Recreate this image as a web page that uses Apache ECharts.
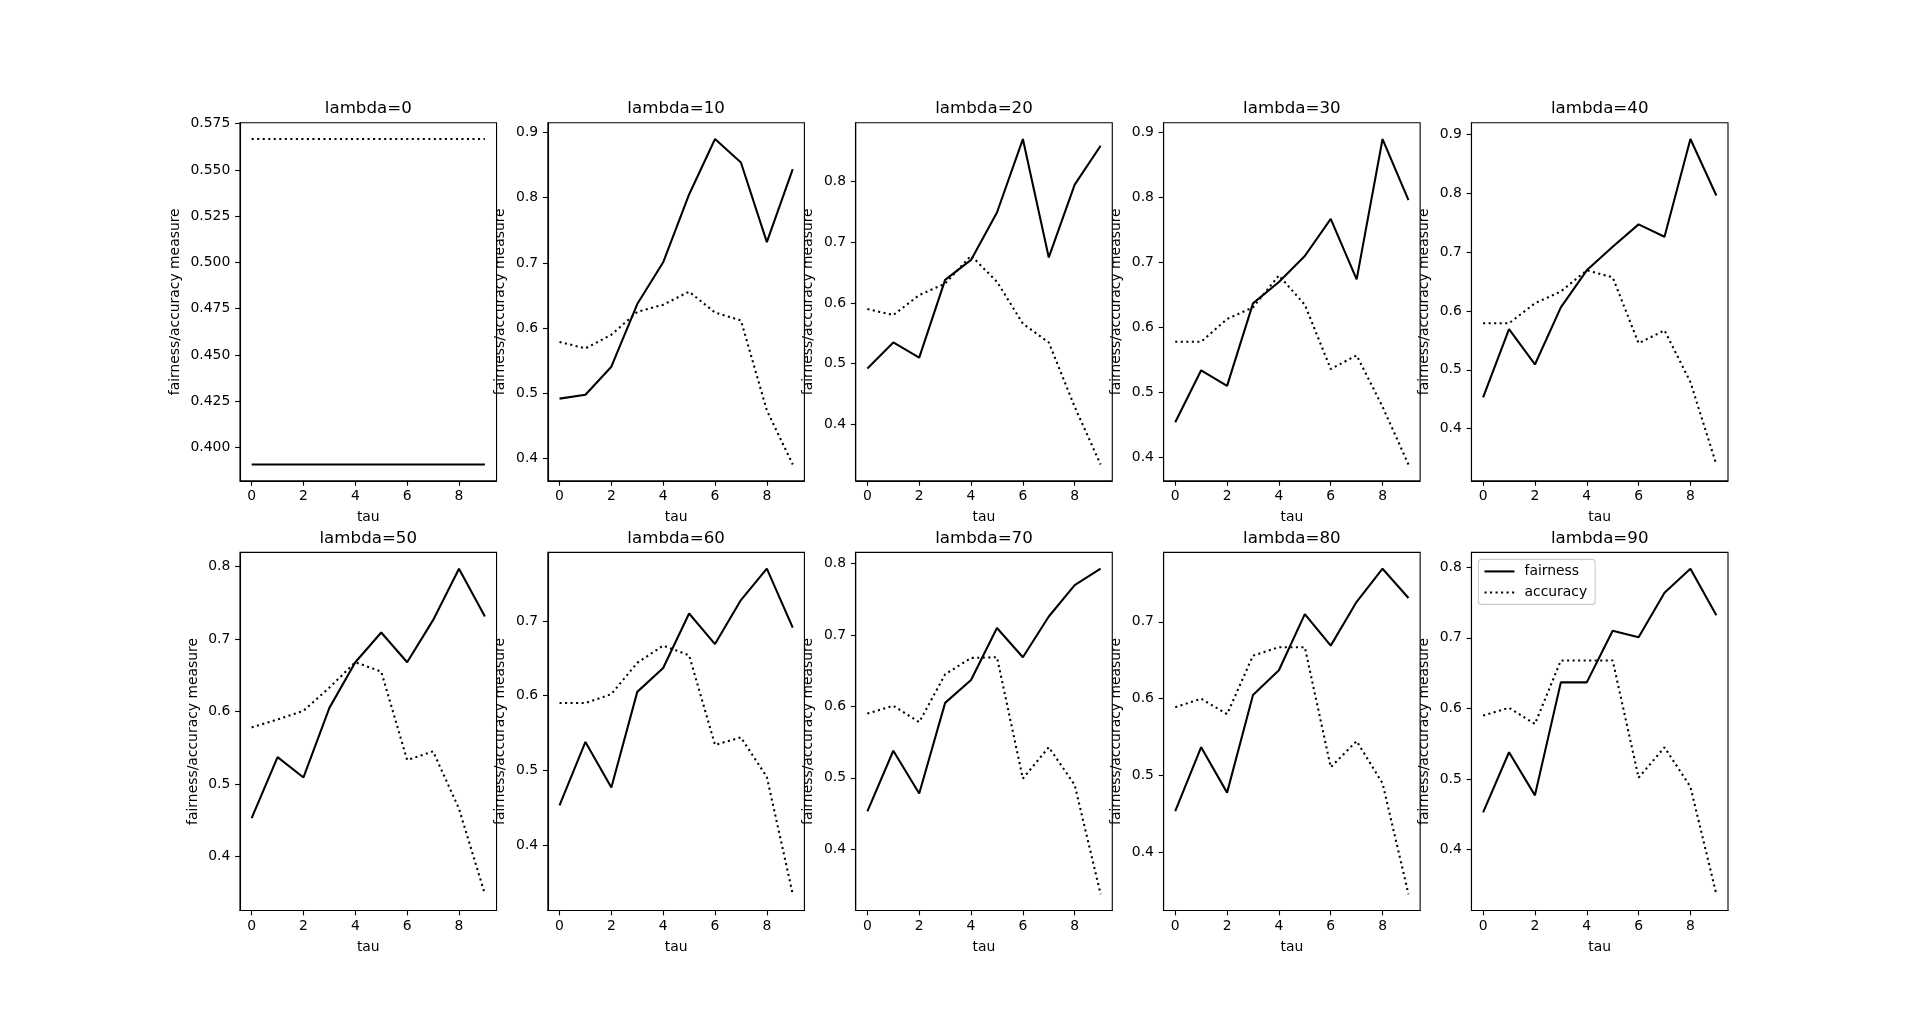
<!DOCTYPE html>
<html><head><meta charset="utf-8">
<script src="https://cdn.jsdelivr.net/npm/echarts@6/dist/echarts.min.js"></script>
<style>html,body{margin:0;padding:0;background:#fff}#c{width:1920px;height:1023px}</style>
</head><body><div id="c"></div><script>
// ---------------- data ----------------
const tau = [0, 1, 2, 3, 4, 5, 6, 7, 8, 9];
const xTicks = [0, 2, 4, 6, 8];
const lambdas = [0, 10, 20, 30, 40, 50, 60, 70, 80, 90];

const fairness_0  = [0.3908, 0.3908, 0.3908, 0.3908, 0.3908, 0.3908, 0.3908, 0.3908, 0.3908, 0.3908];
const accuracy_0  = [0.5667, 0.5667, 0.5667, 0.5667, 0.5667, 0.5667, 0.5667, 0.5667, 0.5667, 0.5667];
const fairness_10 = [0.492, 0.498, 0.541, 0.637, 0.701, 0.805, 0.890, 0.854, 0.732, 0.844];
const accuracy_10 = [0.579, 0.569, 0.590, 0.625, 0.636, 0.656, 0.624, 0.612, 0.474, 0.391];
const fairness_20 = [0.492, 0.535, 0.510, 0.638, 0.671, 0.749, 0.870, 0.675, 0.795, 0.859];
const accuracy_20 = [0.590, 0.580, 0.613, 0.632, 0.678, 0.635, 0.566, 0.535, 0.429, 0.334];
const fairness_30 = [0.454, 0.534, 0.510, 0.637, 0.670, 0.710, 0.767, 0.674, 0.890, 0.796];
const accuracy_30 = [0.578, 0.578, 0.613, 0.631, 0.680, 0.635, 0.536, 0.557, 0.478, 0.389];
const fairness_40 = [0.453, 0.569, 0.509, 0.606, 0.669, 0.709, 0.747, 0.726, 0.892, 0.796];
const accuracy_40 = [0.579, 0.579, 0.613, 0.633, 0.669, 0.657, 0.545, 0.567, 0.479, 0.339];
const fairness_50 = [0.453, 0.537, 0.509, 0.605, 0.668, 0.709, 0.668, 0.726, 0.797, 0.731];
const accuracy_50 = [0.578, 0.589, 0.601, 0.633, 0.668, 0.655, 0.533, 0.545, 0.466, 0.348];
const fairness_60 = [0.453, 0.538, 0.477, 0.605, 0.637, 0.710, 0.669, 0.728, 0.770, 0.691];
const accuracy_60 = [0.590, 0.590, 0.602, 0.644, 0.667, 0.654, 0.534, 0.544, 0.491, 0.334];
const fairness_70 = [0.453, 0.538, 0.478, 0.605, 0.637, 0.710, 0.669, 0.726, 0.770, 0.793];
const accuracy_70 = [0.590, 0.601, 0.578, 0.645, 0.668, 0.669, 0.499, 0.543, 0.490, 0.337];
const fairness_80 = [0.454, 0.537, 0.478, 0.605, 0.637, 0.710, 0.669, 0.726, 0.769, 0.731];
const accuracy_80 = [0.589, 0.600, 0.580, 0.656, 0.667, 0.667, 0.511, 0.545, 0.490, 0.346];
const fairness_90 = [0.453, 0.538, 0.477, 0.637, 0.637, 0.710, 0.701, 0.764, 0.798, 0.732];
const accuracy_90 = [0.590, 0.601, 0.578, 0.668, 0.668, 0.668, 0.502, 0.545, 0.489, 0.337];

const yTicks_0  = [0.400, 0.425, 0.450, 0.475, 0.500, 0.525, 0.550, 0.575];
const yTicks_10 = [0.4, 0.5, 0.6, 0.7, 0.8, 0.9];
const yTicks_20 = [0.4, 0.5, 0.6, 0.7, 0.8];
const yTicks_30 = [0.4, 0.5, 0.6, 0.7, 0.8, 0.9];
const yTicks_40 = [0.4, 0.5, 0.6, 0.7, 0.8, 0.9];
const yTicks_50 = [0.4, 0.5, 0.6, 0.7, 0.8];
const yTicks_60 = [0.4, 0.5, 0.6, 0.7];
const yTicks_70 = [0.4, 0.5, 0.6, 0.7, 0.8];
const yTicks_80 = [0.4, 0.5, 0.6, 0.7];
const yTicks_90 = [0.4, 0.5, 0.6, 0.7, 0.8];

const fairnessAll = [fairness_0, fairness_10, fairness_20, fairness_30, fairness_40, fairness_50, fairness_60, fairness_70, fairness_80, fairness_90];
const accuracyAll = [accuracy_0, accuracy_10, accuracy_20, accuracy_30, accuracy_40, accuracy_50, accuracy_60, accuracy_70, accuracy_80, accuracy_90];
const yTicksAll = [yTicks_0, yTicks_10, yTicks_20, yTicks_30, yTicks_40, yTicks_50, yTicks_60, yTicks_70, yTicks_80, yTicks_90];

// ---------------- layout (matplotlib default subplot params) ----------------
const W = 1920, H = 1023;
const L = 0.125 * W, R = 0.9 * W, T = (1 - 0.88) * H, B = (1 - 0.11) * H;
const ncol = 5, nrow = 2;
const cw = (R - L) / (ncol + (ncol - 1) * 0.2);
const ch = (B - T) / (nrow + (nrow - 1) * 0.2);
const FONT = 'DejaVu Sans';
const tickFont = 13.9;

const grids = [], xAxes = [], yAxes = [], series = [], titles = [];
const dotted = [2.08, 3.44];

lambdas.forEach((lam, i) => {
  const r = Math.floor(i / ncol), c = i % ncol;
  const gl = L + c * cw * 1.2, gt = T + r * ch * 1.2;
  grids.push({ left: gl, top: gt, width: cw, height: ch, show: true, borderColor: '#000', borderWidth: 1.1, backgroundColor: '#fff', containLabel: false, outerBoundsMode: 'none' });
  const all = fairnessAll[i].concat(accuracyAll[i]);
  const mn = Math.min(...all), mx = Math.max(...all), rg = mx - mn;
  const dec = i === 0 ? 3 : 1;
  xAxes.push({
    gridIndex: i, type: 'value', min: -0.45, max: 9.45, position: 'bottom',
    name: 'tau', nameLocation: 'middle', nameGap: 30,
    nameTextStyle: { fontFamily: FONT, fontSize: tickFont, color: '#000' },
    axisLine: { show: true, onZero: false, lineStyle: { color: '#000', width: 1.1 } },
    axisTick: { show: true, inside: false, length: 4.9, lineStyle: { color: '#000', width: 1.1 }, customValues: xTicks },
    axisLabel: { show: true, margin: 9, fontFamily: FONT, fontSize: tickFont, color: '#000', customValues: xTicks, formatter: v => String(v) },
    splitLine: { show: false }
  });
  yAxes.push({
    gridIndex: i, type: 'value', min: mn - 0.05 * rg, max: mx + 0.05 * rg, position: 'left',
    name: 'fairness/accuracy measure', nameLocation: 'middle', nameRotate: 90,
    nameGap: i === 0 ? 58 : 40,
    nameTextStyle: { fontFamily: FONT, fontSize: tickFont, color: '#000' },
    axisLine: { show: true, onZero: false, lineStyle: { color: '#000', width: 1.1 } },
    axisTick: { show: true, inside: false, length: 4.9, lineStyle: { color: '#000', width: 1.1 }, customValues: yTicksAll[i] },
    axisLabel: { show: true, margin: 9.7, fontFamily: FONT, fontSize: tickFont, color: '#000', customValues: yTicksAll[i], formatter: v => Number(v).toFixed(dec) },
    splitLine: { show: false }
  });
  series.push({
    name: 'fairness', type: 'line', xAxisIndex: i, yAxisIndex: i,
    data: tau.map((t, k) => [t, fairnessAll[i][k]]),
    symbol: 'none', lineStyle: { color: '#000', width: 2.08, type: 'solid' }, itemStyle: { color: '#000' },
    silent: true, animation: false
  });
  series.push({
    name: 'accuracy', type: 'line', xAxisIndex: i, yAxisIndex: i,
    data: tau.map((t, k) => [t, accuracyAll[i][k]]),
    symbol: 'none', lineStyle: { color: '#000', width: 2.08, type: dotted, cap: 'butt' }, itemStyle: { color: '#000' },
    silent: true, animation: false
  });
  titles.push({
    text: 'lambda=' + lam, left: gl + cw / 2, top: gt - 22.5, textAlign: 'center', padding: 0,
    textStyle: { fontFamily: FONT, fontSize: 16.67, fontWeight: 'normal', color: '#000' }
  });
});

const lastR = 1, lastC = 4;
const legGl = L + lastC * cw * 1.2, legGt = T + lastR * ch * 1.2;

const chart = echarts.init(document.getElementById('c'), null, { renderer: 'canvas' });
chart.setOption({
  backgroundColor: '#fff',
  animation: false,
  title: titles,
  grid: grids,
  xAxis: xAxes,
  yAxis: yAxes,
  series: series,
  legend: {
    data: ['fairness', 'accuracy'],
    orient: 'vertical', left: legGl + 7, top: legGt + 7,
    itemWidth: 30, itemHeight: 14, itemGap: 7,
    padding: [5, 8, 5, 5],
    backgroundColor: 'rgba(255,255,255,0.8)', borderColor: '#cccccc', borderWidth: 1.1, borderRadius: 3,
    itemStyle: { opacity: 0, borderWidth: 0 },
    lineStyle: { width: 2.08 },
    textStyle: { fontFamily: FONT, fontSize: tickFont, color: '#000', padding: [0, 0, 0, 5] },
    selectedMode: false
  }
});
</script></body></html>
